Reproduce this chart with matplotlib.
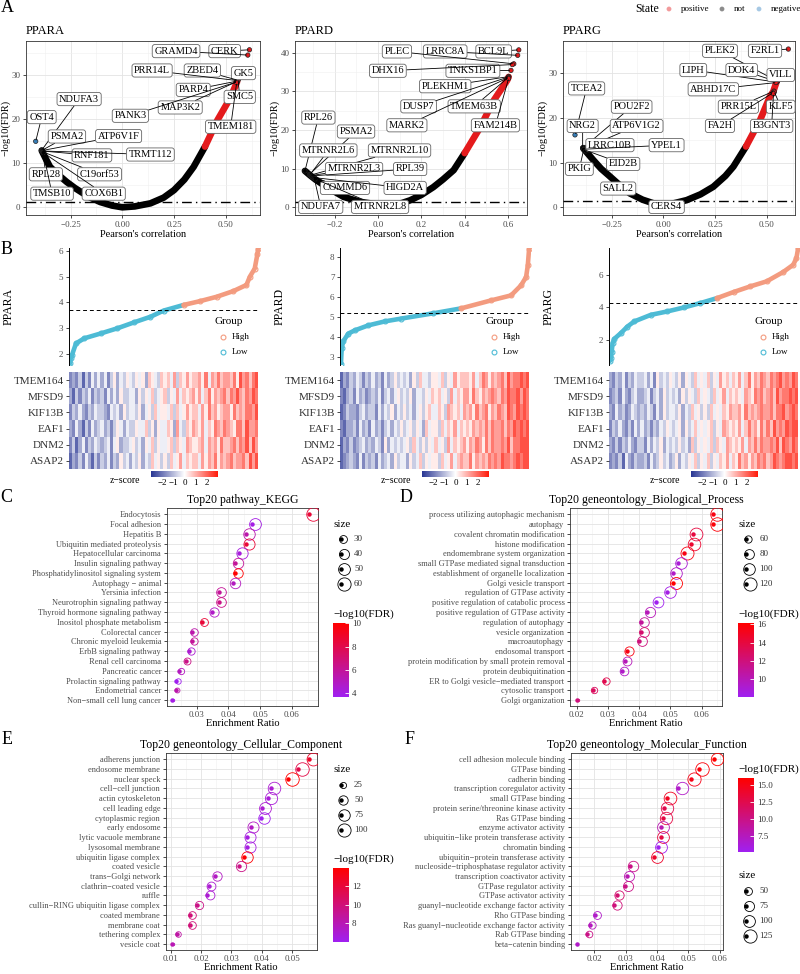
import numpy as np
import matplotlib
matplotlib.use("Agg")
import matplotlib.pyplot as plt
from matplotlib.colors import LinearSegmentedColormap, Normalize
from matplotlib.cm import ScalarMappable
from matplotlib.transforms import offset_copy
from matplotlib.ticker import FuncFormatter, MultipleLocator

plt.rcParams["font.family"] = ["Liberation Serif", "DejaVu Serif"]

# ---------------- panel A: genes correlated with each PPAR ----------------
# band of all genes, read along its centre: Pearson r and -log10(FDR)
ppara_band_r = [-0.39, -0.37, -0.35, -0.31, -0.27, -0.23, -0.19, -0.15, -0.107, -0.05, 0.0,
                0.06, 0.136, 0.2, 0.25, 0.3, 0.345, 0.4, 0.46, 0.524, 0.555]
ppara_band_f = [12.9, 11.0, 9.2, 7.4, 5.8, 4.4, 3.2, 2.1, 1.2, 0.4, 0.0,
                0.2, 0.9, 2.2, 3.9, 6.3, 9.2, 13.8, 19.8, 25.0, 28.5]
ppara_genes = ["CERK", "GRAMD4", "GK5", "ZBED4", "PRR14L", "PARP4", "SMC5", "MAP3K2", "PANK3", "TMEM181",
               "OST4", "NDUFA3", "PSMA2", "ATP6V1F", "RNF181", "TRMT112", "RPL28", "C19orf53", "TMSB10", "COX6B1"]
ppara_gene_r = [0.615, 0.607, 0.56, 0.558, 0.557, 0.556, 0.56, 0.555, 0.554, 0.553,
                -0.419, -0.39, -0.39, -0.388, -0.388, -0.387, -0.385, -0.384, -0.383, -0.382]
ppara_gene_f = [35.8, 34.6, 29.0, 28.9, 28.8, 28.7, 28.9, 28.6, 28.5, 28.3,
                15.0, 13.0, 12.9, 12.9, 12.8, 12.8, 12.6, 12.6, 12.5, 12.4]

ppard_band_r = [-0.338, -0.315, -0.29, -0.237, -0.16, -0.083, 0.025, 0.1, 0.148, 0.2, 0.255,
                0.3, 0.349, 0.4, 0.472, 0.534, 0.596, 0.603]
ppard_band_f = [9.4, 8.3, 7.2, 5.2, 2.7, 1.4, 0.5, 0.9, 1.8, 3.2, 5.2,
                7.2, 9.6, 14.0, 20.7, 27.6, 32.8, 33.7]
ppard_genes = ["BCL9L", "LRRC8A", "PLEC", "TNKS1BP1", "DHX16", "PLEKHM1", "DUSP7", "TMEM63B", "MARK2", "FAM214B",
               "RPL26", "PSMA2", "MTRNR2L6", "MTRNR2L10", "MTRNR2L3", "RPL39", "COMMD6", "HIGD2A", "NDUFA7", "MTRNR2L8"]
ppard_gene_r = [0.65, 0.645, 0.627, 0.614, 0.62, 0.604, 0.603, 0.602, 0.601, 0.603,
                -0.338, -0.318, -0.315, -0.313, -0.31, -0.308, -0.305, -0.3, -0.295, -0.29]
ppard_gene_f = [40.7, 39.3, 37.1, 35.4, 36.9, 33.8, 33.7, 33.6, 33.5, 33.3,
                9.4, 8.5, 8.4, 8.3, 8.2, 8.1, 7.9, 7.7, 7.5, 7.3]

pparg_band_r = [-0.387, -0.339, -0.3, -0.258, -0.2, -0.161, -0.1, -0.048, 0.016, 0.113, 0.18,
                0.242, 0.3, 0.339, 0.4, 0.468, 0.516, 0.532, 0.548]
pparg_band_f = [13.2, 10.6, 8.6, 6.9, 4.5, 3.1, 1.7, 0.9, 0.5, 1.6, 2.9,
                4.6, 7.0, 9.1, 13.6, 19.5, 24.8, 25.9, 28.1]
pparg_genes = ["F2RL1", "PLEK2", "LIPH", "DOK4", "VILL", "ABHD17C", "PRR15L", "KLF5", "FA2H", "B3GNT3",
               "TCEA2", "POU2F2", "NRG2", "ATP6V1G2", "LRRC10B", "YPEL1", "EID2B", "PKIG", "SALL2", "CERS4"]
pparg_gene_r = [0.605, 0.552, 0.548, 0.55, 0.553, 0.545, 0.535, 0.537, 0.53, 0.533,
                -0.427, -0.385, -0.39, -0.383, -0.382, -0.38, -0.378, -0.385, -0.375, 0.0]
pparg_gene_f = [35.4, 28.2, 28.0, 28.1, 28.3, 27.9, 26.0, 25.8, 25.6, 25.4,
                16.2, 13.4, 13.3, 13.2, 13.1, 13.0, 12.8, 12.9, 12.6, 0.02]

# ---------------- panel B: samples ranked by PPAR expression ----------------
ppara_rank = [0, 0.5, 1.1, 3.2, 7.6, 16.4, 25.2, 34.0, 42.8, 49.8, 60.4, 69.2, 78.0, 86.8, 93.8, 95.6, 98.2, 99.6, 100]
ppara_expr = [1.62, 1.85, 1.95, 2.4, 2.6, 2.79, 2.99, 3.22, 3.44, 3.68, 3.9, 4.05, 4.22, 4.44, 4.68, 5.0, 5.32, 5.87, 6.1]
ppara_cut = 3.70
ppard_rank = [0, 0.4, 1.2, 3.9, 7.3, 14.5, 23.3, 32.0, 48.8, 63.8, 79.8, 90.4, 95.7, 98.4, 99.3, 100]
ppard_expr = [2.64, 3.45, 3.78, 4.17, 4.33, 4.58, 4.78, 4.92, 5.18, 5.43, 5.83, 6.08, 6.58, 7.0, 7.58, 8.42]
ppard_cut = 5.2
pparg_rank = [0, 0.5, 0.9, 1.4, 2.3, 5.8, 9.3, 12.9, 21.7, 30.5, 39.3, 48.1, 56.9, 65.7, 74.5, 83.3, 92.1, 97.4, 99.1, 100]
pparg_expr = [0.75, 0.95, 1.28, 1.83, 2.09, 2.44, 2.84, 3.15, 3.55, 3.76, 4.0, 4.27, 4.57, 4.94, 5.28, 5.59, 6.16, 6.6, 7.0, 7.6]
pparg_cut = 4.28

heat_genes = ["TMEM164", "MFSD9", "KIF13B", "EAF1", "DNM2", "ASAP2"]
# z-score levels 0..9 (4.5 = 0), one column per sample block
ppara_heat = ["1213031424 2413524354 3545265436 5647365756 6758476867 7685978689",
              "2031324132 3142425334 4253546345 6354746567 5746857678 6879768798",
              "1324213243 3214342534 4352453645 5463645756 6475867567 7586768879",
              "2142031423 4231354243 3544635254 4652743657 6574658768 7658869778",
              "1302413243 2341452334 5342546354 4563654765 5674767586 6786879697",
              "0213142031 3241325342 4352436453 5364574656 6475768576 7867786979"]
ppard_heat = ["0213243132 4231423534 3425364435 5463547566 6574687576 7869788989",
              "1023142312 3241342453 4352443546 5645374657 7586576787 6879889798",
              "0132213423 3142435243 5342453564 4653765647 6758678576 8769879898",
              "1022314231 4231342435 3453542645 5364657465 6576768687 7868798989",
              "0213123423 2431524343 4536435354 6453746567 5768758687 7879688999",
              "0123214132 3142342534 4253463545 5364574676 6857676878 7988789899"]
pparg_heat = ["2132413243 3424153435 4352543645 4635475646 5746857687 6878978798",
              "1231421342 2341342534 3425354364 5436457465 6547658786 7869788989",
              "2142312432 3243142534 4352436453 5364546576 6758676787 7868897898",
              "1324213142 4231324354 3452534645 4563547656 5746867586 8697879899",
              "2131324213 3142435243 4353426354 5463654765 6574768687 7879698798",
              "1213042132 2314235342 3524354635 4635465746 5867576878 6798789989"]

# ---------------- panels C-F: enrichment ----------------
kegg_terms = ["Endocytosis", "Focal adhesion", "Hepatitis B", "Ubiquitin mediated proteolysis",
              "Hepatocellular carcinoma", "Insulin signaling pathway", "Phosphatidylinositol signaling system",
              "Autophagy \u2212 animal", "Yersinia infection", "Neurotrophin signaling pathway",
              "Thyroid hormone signaling pathway", "Inositol phosphate metabolism", "Colorectal cancer",
              "Chronic myeloid leukemia", "ErbB signaling pathway", "Renal cell carcinoma", "Pancreatic cancer",
              "Prolactin signaling pathway", "Endometrial cancer", "Non\u2212small cell lung cancer"]
kegg_ratio = [0.0656, 0.0476, 0.0455, 0.0455, 0.0433, 0.0422, 0.0422, 0.0413, 0.0369, 0.0369,
              0.0348, 0.0316, 0.0285, 0.0285, 0.0276, 0.0265, 0.0245, 0.0235, 0.0235, 0.0223]
kegg_count = [62, 50, 48, 46, 47, 42, 37, 42, 38, 38, 36, 30, 29, 28, 28, 27, 25, 23, 22, 20]
kegg_fdr = [8.5, 4.0, 5.5, 8.5, 4.2, 6.0, 10.0, 5.0, 6.0, 6.5, 4.8, 8.5, 5.5, 6.0, 4.5, 6.5, 5.0, 3.7, 5.5, 4.0]

bp_terms = ["process utilizing autophagic mechanism", "autophagy", "covalent chromatin modification",
            "histone modification", "endomembrane system organization", "small GTPase mediated signal transduction",
            "establishment of organelle localization", "Golgi vesicle transport", "regulation of GTPase activity",
            "positive regulation of catabolic process", "positive regulation of GTPase activity",
            "regulation of autophagy", "vesicle organization", "macroautophagy", "endosomal transport",
            "protein modification by small protein removal", "protein deubiquitination",
            "ER to Golgi vesicle\u2212mediated transport", "cytosolic transport", "Golgi organization"]
bp_ratio = [0.0637, 0.0637, 0.0571, 0.0566, 0.0544, 0.0525, 0.0509, 0.0509, 0.0488, 0.0453,
            0.0426, 0.0407, 0.0407, 0.0400, 0.0360, 0.0355, 0.0344, 0.0287, 0.0251, 0.0202]
bp_count = [125, 125, 115, 112, 118, 100, 100, 105, 100, 90, 85, 78, 80, 80, 75, 72, 70, 60, 55, 45]
bp_fdr = [15.5, 15.8, 14.0, 14.5, 15.5, 9.0, 9.5, 16.1, 8.5, 8.1, 10.0, 11.0, 12.5, 12.0, 15.5,
          10.0, 9.5, 13.5, 13.0, 12.0]

cc_terms = ["adherens junction", "endosome membrane", "nuclear speck", "cell\u2212cell junction",
            "actin cytoskeleton", "cell leading edge", "cytoplasmic region", "early endosome",
            "lytic vacuole membrane", "lysosomal membrane", "ubiquitin ligase complex", "coated vesicle",
            "trans\u2212Golgi network", "clathrin\u2212coated vesicle", "ruffle",
            "cullin\u2212RING ubiquitin ligase complex", "coated membrane", "membrane coat",
            "tethering complex", "vesicle coat"]
cc_ratio = [0.0556, 0.0520, 0.0487, 0.0429, 0.0419, 0.0400, 0.0396, 0.0363, 0.0352, 0.0352,
            0.0342, 0.0324, 0.0245, 0.0226, 0.0221, 0.0188, 0.0163, 0.0163, 0.0120, 0.0105]
cc_count = [95, 105, 105, 90, 85, 80, 75, 70, 70, 70, 75, 60, 50, 45, 45, 40, 35, 35, 22, 15]
cc_fdr = [12.5, 11.5, 13.9, 7.0, 6.8, 7.0, 6.0, 7.5, 6.5, 6.5, 13.8, 9.5, 7.5, 7.0, 7.0, 9.5,
          10.0, 10.0, 8.5, 8.0]

mf_terms = ["cell adhesion molecule binding", "GTPase binding", "cadherin binding",
            "transcription coregulator activity", "small GTPase binding",
            "protein serine/threonine kinase activity", "Ras GTPase binding", "enzyme activator activity",
            "ubiquitin\u2212like protein transferase activity", "chromatin binding",
            "ubiquitin\u2212protein transferase activity", "nucleoside\u2212triphosphatase regulator activity",
            "transcription coactivator activity", "GTPase regulator activity", "GTPase activator activity",
            "guanyl\u2212nucleotide exchange factor activity", "Rho GTPase binding",
            "Ras guanyl\u2212nucleotide exchange factor activity", "Rab GTPase binding", "beta\u2212catenin binding"]
mf_ratio = [0.0581, 0.0533, 0.0508, 0.0468, 0.0431, 0.0423, 0.0420, 0.0411, 0.0411, 0.0402,
            0.0391, 0.0314, 0.0303, 0.0298, 0.0271, 0.0264, 0.0202, 0.0186, 0.0178, 0.0144]
mf_count = [110, 130, 125, 110, 115, 110, 110, 100, 100, 100, 100, 80, 75, 75, 65, 65, 50, 45, 40, 25]
mf_fdr = [16.0, 15.5, 15.0, 7.0, 14.5, 12.5, 13.0, 8.0, 13.0, 5.2, 14.0, 10.0, 8.0, 10.0, 11.0,
          10.5, 7.0, 7.5, 10.0, 7.0]

# ---------------- layout ----------------
W, H = 800, 974
fig = plt.figure(figsize=(8, 9.74), dpi=100)

ov = fig.add_axes([0, 0, 1, 1])
ov.set_xlim(0, W)
ov.set_ylim(H, 0)
ov.axis("off")


def box(l, t, r, b):
    return fig.add_axes([l / W, 1 - b / H, (r - l) / W, (b - t) / H])


GRAY = "#4d4d4d"
RED = "#E41A1C"
BLUE = "#377EB8"
HIGH = "#F39B7F"
LOW = "#4DBBD5"
fdr_cmap = LinearSegmentedColormap.from_list("fdr", ["#A020F0", "#FF0000"])
z_cmap = LinearSegmentedColormap.from_list("z", ["#283593", "#ffffff", "#ff1a0a"])


def fmt(nd):
    return FuncFormatter(lambda v, p: f"{v:.{nd}f}".replace("-", "\u2212"))


def bw_axes(ax):
    for s in ax.spines.values():
        s.set_color("#333333")
        s.set_linewidth(0.6)
    ax.grid(which="major", color="#e3e3e3", lw=0.6)
    ax.grid(which="minor", color="#f0f0f0", lw=0.4)
    ax.set_axisbelow(True)
    ax.tick_params(which="major", labelsize=6.5, labelcolor=GRAY, length=2.5, width=0.5, pad=1.5)
    ax.tick_params(which="minor", length=0)


# ---------------- panel A ----------------
def corr_panel(rect, name, br, bf, genes, gr, gf, labels, xlim, ylim, xticks, nd, xminor, yticks):
    ax = box(*rect)
    ax.set_xlim(xlim)
    ax.set_ylim(ylim)
    br = np.array(br)
    bf = np.array(bf)
    lo = br <= 0.4
    hi = br >= 0.4
    ax.plot(br[lo], bf[lo], color="black", lw=4.8, solid_capstyle="round", zorder=2)
    ax.plot(br[hi], bf[hi], color=RED, lw=4.8, solid_capstyle="round", zorder=2)
    ax.axhline(-np.log10(0.05), color="black", lw=1.0, ls=(0, (7, 3, 1, 3)), zorder=3)
    cols = [RED if r >= 0.4 else (BLUE if r <= -0.4 else "black") for r in gr]
    ax.scatter(gr, gf, s=10, c=cols, edgecolors="#222222", linewidths=0.5, zorder=4)
    for g, r, f in zip(genes, gr, gf):
        ax.annotate(g, xy=(r, f), xytext=labels[g], textcoords="data", ha="center", va="center",
                    fontsize=7.5, zorder=5,
                    bbox=dict(boxstyle="round,pad=0.2,rounding_size=0.25", fc="white", ec="#666666", lw=0.6),
                    arrowprops=dict(arrowstyle="-", color="black", lw=0.6, shrinkA=0, shrinkB=1))
    ax.set_xticks(xticks)
    ax.xaxis.set_major_formatter(fmt(nd))
    ax.xaxis.set_minor_locator(MultipleLocator(xminor))
    ax.set_yticks(yticks)
    ax.yaxis.set_minor_locator(MultipleLocator(5))
    bw_axes(ax)
    ax.set_xlabel("Pearson's correlation", fontsize=7.5, labelpad=1)
    ax.set_ylabel("\u2212log10(FDR)", fontsize=7.5, labelpad=1)
    ax.set_title(name, loc="left", fontsize=9, pad=5)


ppara_labels = {"CERK": (0.495, 35.5), "GRAMD4": (0.26, 35.5), "GK5": (0.586, 30.5), "ZBED4": (0.387, 31.1),
                "PRR14L": (0.144, 31.1), "PARP4": (0.343, 26.7), "SMC5": (0.568, 25.1), "MAP3K2": (0.28, 22.7),
                "PANK3": (0.039, 20.8), "TMEM181": (0.524, 18.3), "OST4": (-0.39, 20.5), "NDUFA3": (-0.209, 24.6),
                "PSMA2": (-0.268, 16.1), "ATP6V1F": (-0.018, 16.2), "RNF181": (-0.147, 11.8),
                "TRMT112": (0.136, 12.0), "RPL28": (-0.37, 7.5), "C19orf53": (-0.11, 7.5),
                "TMSB10": (-0.34, 3.1), "COX6B1": (-0.09, 3.1)}
ppard_labels = {"PLEC": (0.087, 40.3), "LRRC8A": (0.31, 40.3), "BCL9L": (0.534, 40.3), "DHX16": (0.045, 35.3),
                "TNKS1BP1": (0.438, 35.3), "PLEKHM1": (0.31, 31.3), "DUSP7": (0.187, 26.1),
                "TMEM63B": (0.444, 26.1), "MARK2": (0.133, 21.2), "FAM214B": (0.542, 21.2),
                "RPL26": (-0.276, 23.2), "PSMA2": (-0.102, 19.6), "MTRNR2L6": (-0.23, 14.7),
                "MTRNR2L10": (0.099, 14.7), "MTRNR2L3": (-0.111, 9.9), "RPL39": (0.148, 9.9),
                "COMMD6": (-0.153, 5.0), "HIGD2A": (0.125, 5.0), "NDUFA7": (-0.265, 0.1),
                "MTRNR2L8": (0.009, 0.1)}
pparg_labels = {"PLEK2": (0.274, 35.0), "F2RL1": (0.492, 35.0), "LIPH": (0.145, 30.7), "DOK4": (0.379, 30.7),
                "VILL": (0.568, 29.6), "ABHD17C": (0.242, 26.4), "PRR15L": (0.363, 22.5), "KLF5": (0.568, 22.5),
                "FA2H": (0.274, 18.2), "B3GNT3": (0.524, 18.2), "TCEA2": (-0.371, 26.6),
                "POU2F2": (-0.153, 22.5), "NRG2": (-0.39, 18.2), "ATP6V1G2": (-0.129, 18.2),
                "LRRC10B": (-0.258, 13.9), "YPEL1": (0.016, 13.9), "EID2B": (-0.194, 9.7),
                "PKIG": (-0.406, 8.6), "SALL2": (-0.218, 4.2), "CERS4": (0.016, 0.1)}

corr_panel((26, 41, 260, 215), "PPARA", ppara_band_r, ppara_band_f, ppara_genes, ppara_gene_r, ppara_gene_f,
           ppara_labels, (-0.466, 0.666), (-1.75, 37.8), [-0.25, 0, 0.25, 0.5], 2, 0.125, [0, 10, 20, 30])
corr_panel((295, 41, 527, 215), "PPARD", ppard_band_r, ppard_band_f, ppard_genes, ppard_gene_r, ppard_gene_f,
           ppard_labels, (-0.384, 0.688), (-2.0, 43.0), [-0.2, 0, 0.2, 0.4, 0.6], 1, 0.1, [0, 10, 20, 30, 40])
corr_panel((563, 41, 795, 215), "PPARG", pparg_band_r, pparg_band_f, pparg_genes, pparg_gene_r, pparg_gene_f,
           pparg_labels, (-0.485, 0.637), (-1.72, 37.2), [-0.25, 0, 0.25, 0.5], 2, 0.125, [0, 10, 20, 30])

# State legend
ov.text(635, 9, "State", fontsize=8.5, va="center")
for x, lab, c in [(669, "positive", "#F29A9B"), (722, "not", "#8C8C8C"), (759, "negative", "#A6C8E4")]:
    ov.scatter([x], [9], s=12, color=c, edgecolors="none")
    ov.text(x + 12, 9, lab, fontsize=6.5, va="center")


# ---------------- panel B ----------------
def expr_panel(l, name, rank, expr, cut, ylim, yticks, heat):
    ax = box(l, 248, l + 191, 365)
    rank = np.array(rank)
    expr = np.array(expr)
    k = int(np.argmax(expr > cut))
    ax.plot(rank[:k + 1], expr[:k + 1], color=LOW, lw=3.3, solid_capstyle="round")
    ax.plot(rank[k:], expr[k:], color=HIGH, lw=3.3, solid_capstyle="round")
    ax.plot(rank[:k], expr[:k], "o", ms=3.5, mfc="none", mec=LOW, mew=0.8)
    ax.plot(rank[k:], expr[k:], "o", ms=3.5, mfc="none", mec=HIGH, mew=0.8)
    ax.axhline(cut, color="black", lw=0.7, ls=(0, (4, 3)))
    ax.set_xlim(-0.5, 101)
    ax.set_ylim(ylim)
    ax.set_yticks(yticks)
    ax.set_xticks([])
    for s in ["top", "right", "bottom"]:
        ax.spines[s].set_visible(False)
    ax.spines["left"].set_linewidth(0.7)
    ax.tick_params(labelsize=6.5, labelcolor=GRAY, length=2.5, width=0.5, pad=1.5)
    ax.set_ylabel(name, fontsize=8.5)
    ax.yaxis.set_label_coords(-0.285, 0.5)
    # Group legend
    ax.text(0.764, 0.376, "Group", transform=ax.transAxes, fontsize=8, va="center")
    for yy, lab, c in [(0.24, "High", HIGH), (0.111, "Low", LOW)]:
        ax.plot([0.806], [yy], "o", ms=3.5, mfc="none", mec=c, mew=0.8, transform=ax.transAxes, clip_on=False)
        ax.text(0.853, yy, lab, transform=ax.transAxes, fontsize=6.5, va="center")
    # heatmap
    hx = box(l, 372, l + 189, 469)
    rows = [r.replace(" ", "") for r in heat]
    n = min(len(r) for r in rows)
    mat = np.array([[(int(ch) - 4.5) * 0.5 for ch in r[:n]] for r in rows])
    hx.imshow(mat, aspect="auto", cmap=z_cmap, vmin=-3, vmax=3, interpolation="nearest")
    hx.set_yticks(range(len(heat_genes)))
    hx.set_yticklabels(heat_genes, fontsize=8, color="#333333")
    hx.set_xticks([])
    hx.tick_params(axis="y", length=2, width=0.5, pad=1.5)
    for s in hx.spines.values():
        s.set_visible(False)
    cax = box(l + 82, 470.7, l + 149, 476.7)
    cb = fig.colorbar(ScalarMappable(Normalize(-3, 3), z_cmap), cax=cax, orientation="horizontal",
                      ticks=[-2, -1, 0, 1, 2])
    cb.outline.set_visible(False)
    cax.tick_params(labelsize=6.5, length=0, pad=1.5)
    cax.xaxis.set_major_formatter(fmt(0))
    ov.text(l + 56, 480.5, "z\u2212score", fontsize=7, ha="center", va="center")


expr_panel(69, "PPARA", ppara_rank, ppara_expr, ppara_cut, (1.56, 6.12), [2, 3, 4, 5, 6], ppara_heat)
expr_panel(340, "PPARD", ppard_rank, ppard_expr, ppard_cut, (2.6, 8.45), [3, 4, 5, 6, 7, 8], ppard_heat)
expr_panel(609, "PPARG", pparg_rank, pparg_expr, pparg_cut, (0.5, 7.62), [2, 4, 6], pparg_heat)


# ---------------- panels C-F ----------------
def ring_d(c, cmin, cmax):
    return 2.5 + 11.0 * np.sqrt(max(c - cmin, 0) / (cmax - cmin))


def dot_ring(ax, x, y, d_px, color, clip=True):
    d_pt = d_px * 0.72
    ax.plot([x], [y], "o", ms=3.2, color=color, mec="none", zorder=3, clip_on=clip)
    tr = offset_copy(ax.transData, fig=fig, x=0.25 * d_pt, y=0, units="points")
    ax.plot([x], [y], "o", ms=d_pt, mfc="none", mec=color, mew=0.6, transform=tr, zorder=3, clip_on=clip)


def dot_panel(rect, title, terms, ratio, count, fdr, xlim, xticks):
    ax = box(*rect)
    n = len(terms)
    ys = np.arange(n, 0, -1)
    norm = Normalize(min(fdr), max(fdr))
    cmin, cmax = min(count), max(count)
    ax.set_xlim(xlim)
    ax.set_ylim(0.4, n + 0.6)
    for x, y, c, f in zip(ratio, ys, count, fdr):
        dot_ring(ax, x, y, ring_d(c, cmin, cmax), fdr_cmap(norm(f)))
    ax.set_yticks(ys)
    ax.set_yticklabels(terms)
    ax.set_xticks(xticks)
    ax.xaxis.set_major_formatter(fmt(2))
    ax.xaxis.set_minor_locator(MultipleLocator(0.005))
    bw_axes(ax)
    ax.tick_params(axis="y", labelsize=6)
    ax.tick_params(axis="x", labelsize=6.5, pad=1)
    ax.set_title(title, fontsize=8.5, pad=4)
    ax.set_xlabel("Enrichment Ratio", fontsize=7.5, labelpad=0)
    return norm, cmin, cmax


def size_legend(x, y, values, cmin, cmax):
    ov.text(x, y, "size", fontsize=8, va="center")
    for i, v in enumerate(values):
        yy = y + 15 * (i + 1)
        dot_ring(ov, x + 8, yy, ring_d(v, cmin, cmax), "black", clip=False)
        ov.text(x + 21, yy, str(v), fontsize=6.5, va="center", color="#333333")


def fdr_bar(x, y, norm, ticks, nd):
    ov.text(x, y, "\u2212log10(FDR)", fontsize=8, va="center")
    cax = box(x, y + 9, x + 16, y + 82.4)
    cb = fig.colorbar(ScalarMappable(norm, fdr_cmap), cax=cax, ticks=ticks)
    cb.outline.set_visible(False)
    cax.tick_params(labelsize=6.5, labelcolor="#333333", length=3, width=0.6, color="white",
                    direction="in", pad=2)
    cax.yaxis.set_major_formatter(fmt(nd))


nC = dot_panel((166.7, 508.3, 318.3, 706), "Top20 pathway_KEGG", kegg_terms, kegg_ratio, kegg_count,
               kegg_fdr, (0.0205, 0.0684), [0.03, 0.04, 0.05, 0.06])
size_legend(333, 524.3, [30, 40, 50, 60], nC[1], nC[2])
fdr_bar(333, 614.3, nC[0], [4, 6, 8, 10], 0)

nD = dot_panel((570, 508.3, 721.7, 706), "Top20 geneontology_Biological_Process", bp_terms, bp_ratio,
               bp_count, bp_fdr, (0.0179, 0.0664), [0.02, 0.03, 0.04, 0.05, 0.06])
size_legend(738.3, 524.3, [60, 80, 100, 120], nD[1], nD[2])
fdr_bar(738.3, 614.3, nD[0], [10, 12, 14, 16], 0)

nE = dot_panel((165.7, 753.3, 316.7, 950), "Top20 geneontology_Cellular_Component", cc_terms, cc_ratio,
               cc_count, cc_fdr, (0.0084, 0.058), [0.01, 0.02, 0.03, 0.04, 0.05])
size_legend(333, 770, [25, 50, 75, 100], nE[1], nE[2])
fdr_bar(333, 859.3, nE[0], [8, 10, 12], 0)

nF = dot_panel((570.7, 753.3, 722.7, 950), "Top20 geneontology_Molecular_Function", mf_terms, mf_ratio,
               mf_count, mf_fdr, (0.0125, 0.0609), [0.02, 0.03, 0.04, 0.05, 0.06])
fdr_bar(738.3, 769.3, nF[0], [7.5, 10.0, 12.5, 15.0], 1)
size_legend(738.3, 875.7, [50, 75, 100, 125], nF[1], nF[2])

# panel letters
for lab, x, y in [("A", 7, 8), ("B", 7, 250), ("C", 6, 498), ("D", 406, 498), ("E", 7, 740), ("F", 410, 740)]:
    ov.text(x, y, lab, fontsize=13, ha="center", va="center")

fig.savefig("out.png", dpi=100)
